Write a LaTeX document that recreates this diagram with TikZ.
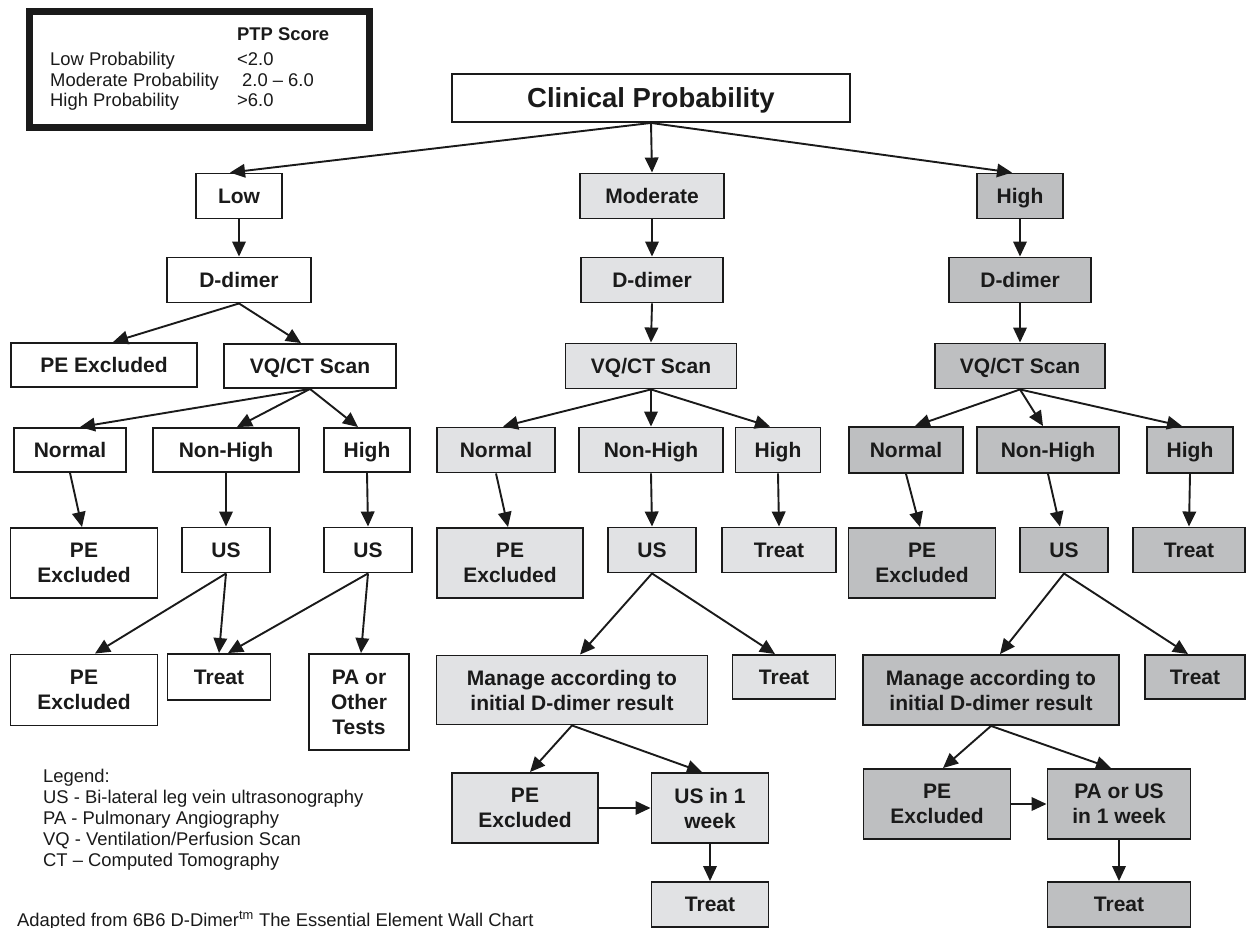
\documentclass[tikz,border=0pt]{standalone}
\usepackage{fontspec}
\setmainfont{Liberation Sans}
\usetikzlibrary{arrows.meta,calc}
\definecolor{midfill}{HTML}{E1E2E4}
\definecolor{hifill}{HTML}{BEBFC1}
\definecolor{ink}{HTML}{1A1A1A}
\begin{document}
\begin{tikzpicture}[x=1pt,y=-1pt,
  bx/.style={draw=ink, line width=1.9pt, inner sep=0pt, align=center, text=ink,
    font=\fontsize{21}{25}\selectfont\bfseries},
  one/.style={bx, text depth=0pt},
  lo/.style={fill=white}, mo/.style={fill=midfill}, hi/.style={fill=hifill},
  sz/.style n args={2}{minimum width=#1pt, minimum height=#2pt},
  arr/.style={draw=ink, line width=1.9pt, -{Triangle[length=15pt,width=13.5pt]}},
  note/.style={anchor=base west, inner sep=0pt, text=ink, font=\fontsize{18.4}{21}\selectfont}
]
\useasboundingbox[fill=white] (0,0) rectangle (1247,928);

% PTP score box
\node[draw=ink, line width=7pt, inner sep=0pt, minimum width=340pt, minimum height=116pt] (ptp) at (199.5,69.5) {};
\node[note, font=\fontsize{18.4}{21}\selectfont\bfseries] (ptph) at (237,41) {PTP Score};
\node[note] (ptp1) at (50,66) {Low Probability};
\node[note] (ptp2) at (50,86.5) {Moderate Probability};
\node[note] (ptp3) at (50,107) {High Probability};
\node[note] (ptp1v) at (237,66) {<2.0};
\node[note] (ptp2v) at (242,86.5) {2.0 -- 6.0};
\node[note] (ptp3v) at (237,107) {>6.0};

% top
\node[one, lo, sz={398}{48}, font=\fontsize{27.5}{30}\selectfont\bfseries] (cp) at (651,98) {Clinical Probability};
\node[one, lo, sz={86}{45}] (low) at (239,196) {Low};
\node[one, mo, sz={144}{45}] (mod) at (652,196) {Moderate};
\node[one, hi, sz={86}{45}] (high) at (1020,196) {High};

% left column
\node[one, lo, sz={144}{45}] (ld) at (239,280) {D-dimer};
\node[one, lo, sz={186}{44}] (lpe) at (104,365) {PE Excluded};
\node[one, lo, sz={172}{44}] (lvq) at (310,366) {VQ/CT Scan};
\node[one, lo, sz={112}{44}] (lno) at (70,450) {Normal};
\node[one, lo, sz={146}{44}] (lnh) at (226,450) {Non-High};
\node[one, lo, sz={86}{44}] (lhi) at (367,450) {High};
\node[bx, lo, sz={147}{70}] (lpe2) at (84,563) {PE\\Excluded};
\node[one, lo, sz={88}{45}] (lus1) at (226,550) {US};
\node[one, lo, sz={88}{45}] (lus2) at (368,550) {US};
\node[bx, lo, sz={147}{71}] (lpe3) at (84,690) {PE\\Excluded};
\node[one, lo, sz={103}{46}] (ltr) at (219,677) {Treat};
\node[bx, lo, sz={100}{96}] (lpa) at (359,702) {PA or\\Other\\Tests};

% middle column
\node[one, mo, sz={142}{45}] (md) at (652,280) {D-dimer};
\node[one, mo, sz={171}{45}] (mvq) at (651,366) {VQ/CT Scan};
\node[one, mo, sz={118}{45}] (mno) at (496,450) {Normal};
\node[one, mo, sz={144}{45}] (mnh) at (651,450) {Non-High};
\node[one, mo, sz={85}{45}] (mhi) at (778,450) {High};
\node[bx, mo, sz={146}{70}] (mpe) at (510,563) {PE\\Excluded};
\node[one, mo, sz={88}{45}] (mus) at (652,550) {US};
\node[one, mo, sz={114}{45}] (mtr) at (779,550) {Treat};
\node[bx, mo, sz={271}{69}] (mman) at (572,690) {Manage according to\\initial D-dimer result};
\node[one, mo, sz={103}{44}] (mtr2) at (784,677) {Treat};
\node[bx, mo, sz={146}{70}] (mpe2) at (525,808) {PE\\Excluded};
\node[bx, mo, sz={117}{70}] (mus1w) at (710,808) {US in 1\\week};
\node[one, mo, sz={117}{45}] (mtr3) at (710,904.5) {Treat};

% right column
\node[one, hi, sz={142}{45}] (rd) at (1020,280) {D-dimer};
\node[one, hi, sz={170}{45}] (rvq) at (1020,366) {VQ/CT Scan};
\node[one, hi, sz={114}{46}] (rno) at (906,450) {Normal};
\node[one, hi, sz={142}{46}] (rnh) at (1048,450) {Non-High};
\node[one, hi, sz={86}{46}] (rhi) at (1190,450) {High};
\node[bx, hi, sz={147}{70}] (rpe) at (922,563) {PE\\Excluded};
\node[one, hi, sz={88}{45}] (rus) at (1064,550) {US};
\node[one, hi, sz={112}{45}] (rtr) at (1189,550) {Treat};
\node[bx, hi, sz={256}{70}] (rman) at (991,690) {Manage according to\\initial D-dimer result};
\node[one, hi, sz={100}{44}] (rtr2) at (1195,677) {Treat};
\node[bx, hi, sz={147}{70}] (rpe2) at (937,804) {PE\\Excluded};
\node[bx, hi, sz={143}{70}] (rpa) at (1119,804) {PA or US\\in 1 week};
\node[one, hi, sz={143}{45}] (rtr3) at (1119,904.5) {Treat};

% legend
\node[note] (lg0) at (43,782) {Legend:};
\node[note] (lg1) at (43,803) {US - Bi-lateral leg vein ultrasonography};
\node[note] (lg2) at (43,824.5) {PA - Pulmonary Angiography};
\node[note] (lg3) at (43,845.5) {VQ - Ventilation/Perfusion Scan};
\node[note] (lg4) at (43,866.5) {CT -- Computed Tomography};
\node[note] (src) at (17,926) {Adapted from 6B6 D-Dimer\textsuperscript{tm} The Essential Element Wall Chart};

% arrows: top
\draw[arr] (cp.south) -- ([xshift=-9pt]low.north);
\draw[arr] (cp.south) -- (mod.north);
\draw[arr] (cp.south) -- ([xshift=-8pt]high.north);

% left
\draw[arr] (low.south) -- (ld.north);
\draw[arr] (ld.south) -- ([xshift=9pt]lpe.north);
\draw[arr] (ld.south) -- ([xshift=-9pt]lvq.north);
\draw[arr] (lvq.south) -- ([xshift=10pt]lno.north);
\draw[arr] (lvq.south) -- ([xshift=11pt]lnh.north);
\draw[arr] (lvq.south) -- ([xshift=-9pt]lhi.north);
\draw[arr] (lno.south) -- ([xshift=-2pt]lpe2.north);
\draw[arr] (lnh.south) -- (lus1.north);
\draw[arr] (lhi.south) -- (lus2.north);
\draw[arr] (lus1.south) -- ([xshift=11pt]lpe3.north);
\draw[arr] (lus1.south) -- (ltr.north);
\draw[arr] (lus2.south) -- ([xshift=9pt]ltr.north);
\draw[arr] (lus2.south) -- ([xshift=2pt]lpa.north);

% middle
\draw[arr] (mod.south) -- (md.north);
\draw[arr] (md.south) -- (mvq.north);
\draw[arr] (mvq.south) -- ([xshift=7pt]mno.north);
\draw[arr] (mvq.south) -- (mnh.north);
\draw[arr] (mvq.south) -- ([xshift=-8pt]mhi.north);
\draw[arr] (mno.south) -- ([xshift=-2pt]mpe.north);
\draw[arr] (mnh.south) -- (mus.north);
\draw[arr] (mhi.south) -- (mtr.north);
\draw[arr] (mus.south) -- ([xshift=8pt]mman.north);
\draw[arr] (mus.south) -- ([xshift=-9pt]mtr2.north);
\draw[arr] (mman.south) -- ([xshift=5pt]mpe2.north);
\draw[arr] (mman.south) -- ([xshift=-8pt]mus1w.north);
\draw[arr] (mpe2.east) -- (mus1w.west);
\draw[arr] (mus1w.south) -- (mtr3.north);

% right
\draw[arr] (high.south) -- (rd.north);
\draw[arr] (rd.south) -- (rvq.north);
\draw[arr] (rvq.south) -- ([xshift=9pt]rno.north);
\draw[arr] (rvq.south) -- ([xshift=-5pt]rnh.north);
\draw[arr] (rvq.south) -- ([xshift=-8pt]rhi.north);
\draw[arr] (rno.south) -- ([xshift=-2pt]rpe.north);
\draw[arr] (rnh.south) -- ([xshift=-4pt]rus.north);
\draw[arr] (rhi.south) -- (rtr.north);
\draw[arr] (rus.south) -- ([xshift=9pt]rman.north);
\draw[arr] (rus.south) -- ([xshift=-7pt]rtr2.north);
\draw[arr] (rman.south) -- ([xshift=6pt]rpe2.north);
\draw[arr] (rman.south) -- ([xshift=-8pt]rpa.north);
\draw[arr] (rpe2.east) -- (rpa.west);
\draw[arr] (rpa.south) -- (rtr3.north);
\end{tikzpicture}
\end{document}
